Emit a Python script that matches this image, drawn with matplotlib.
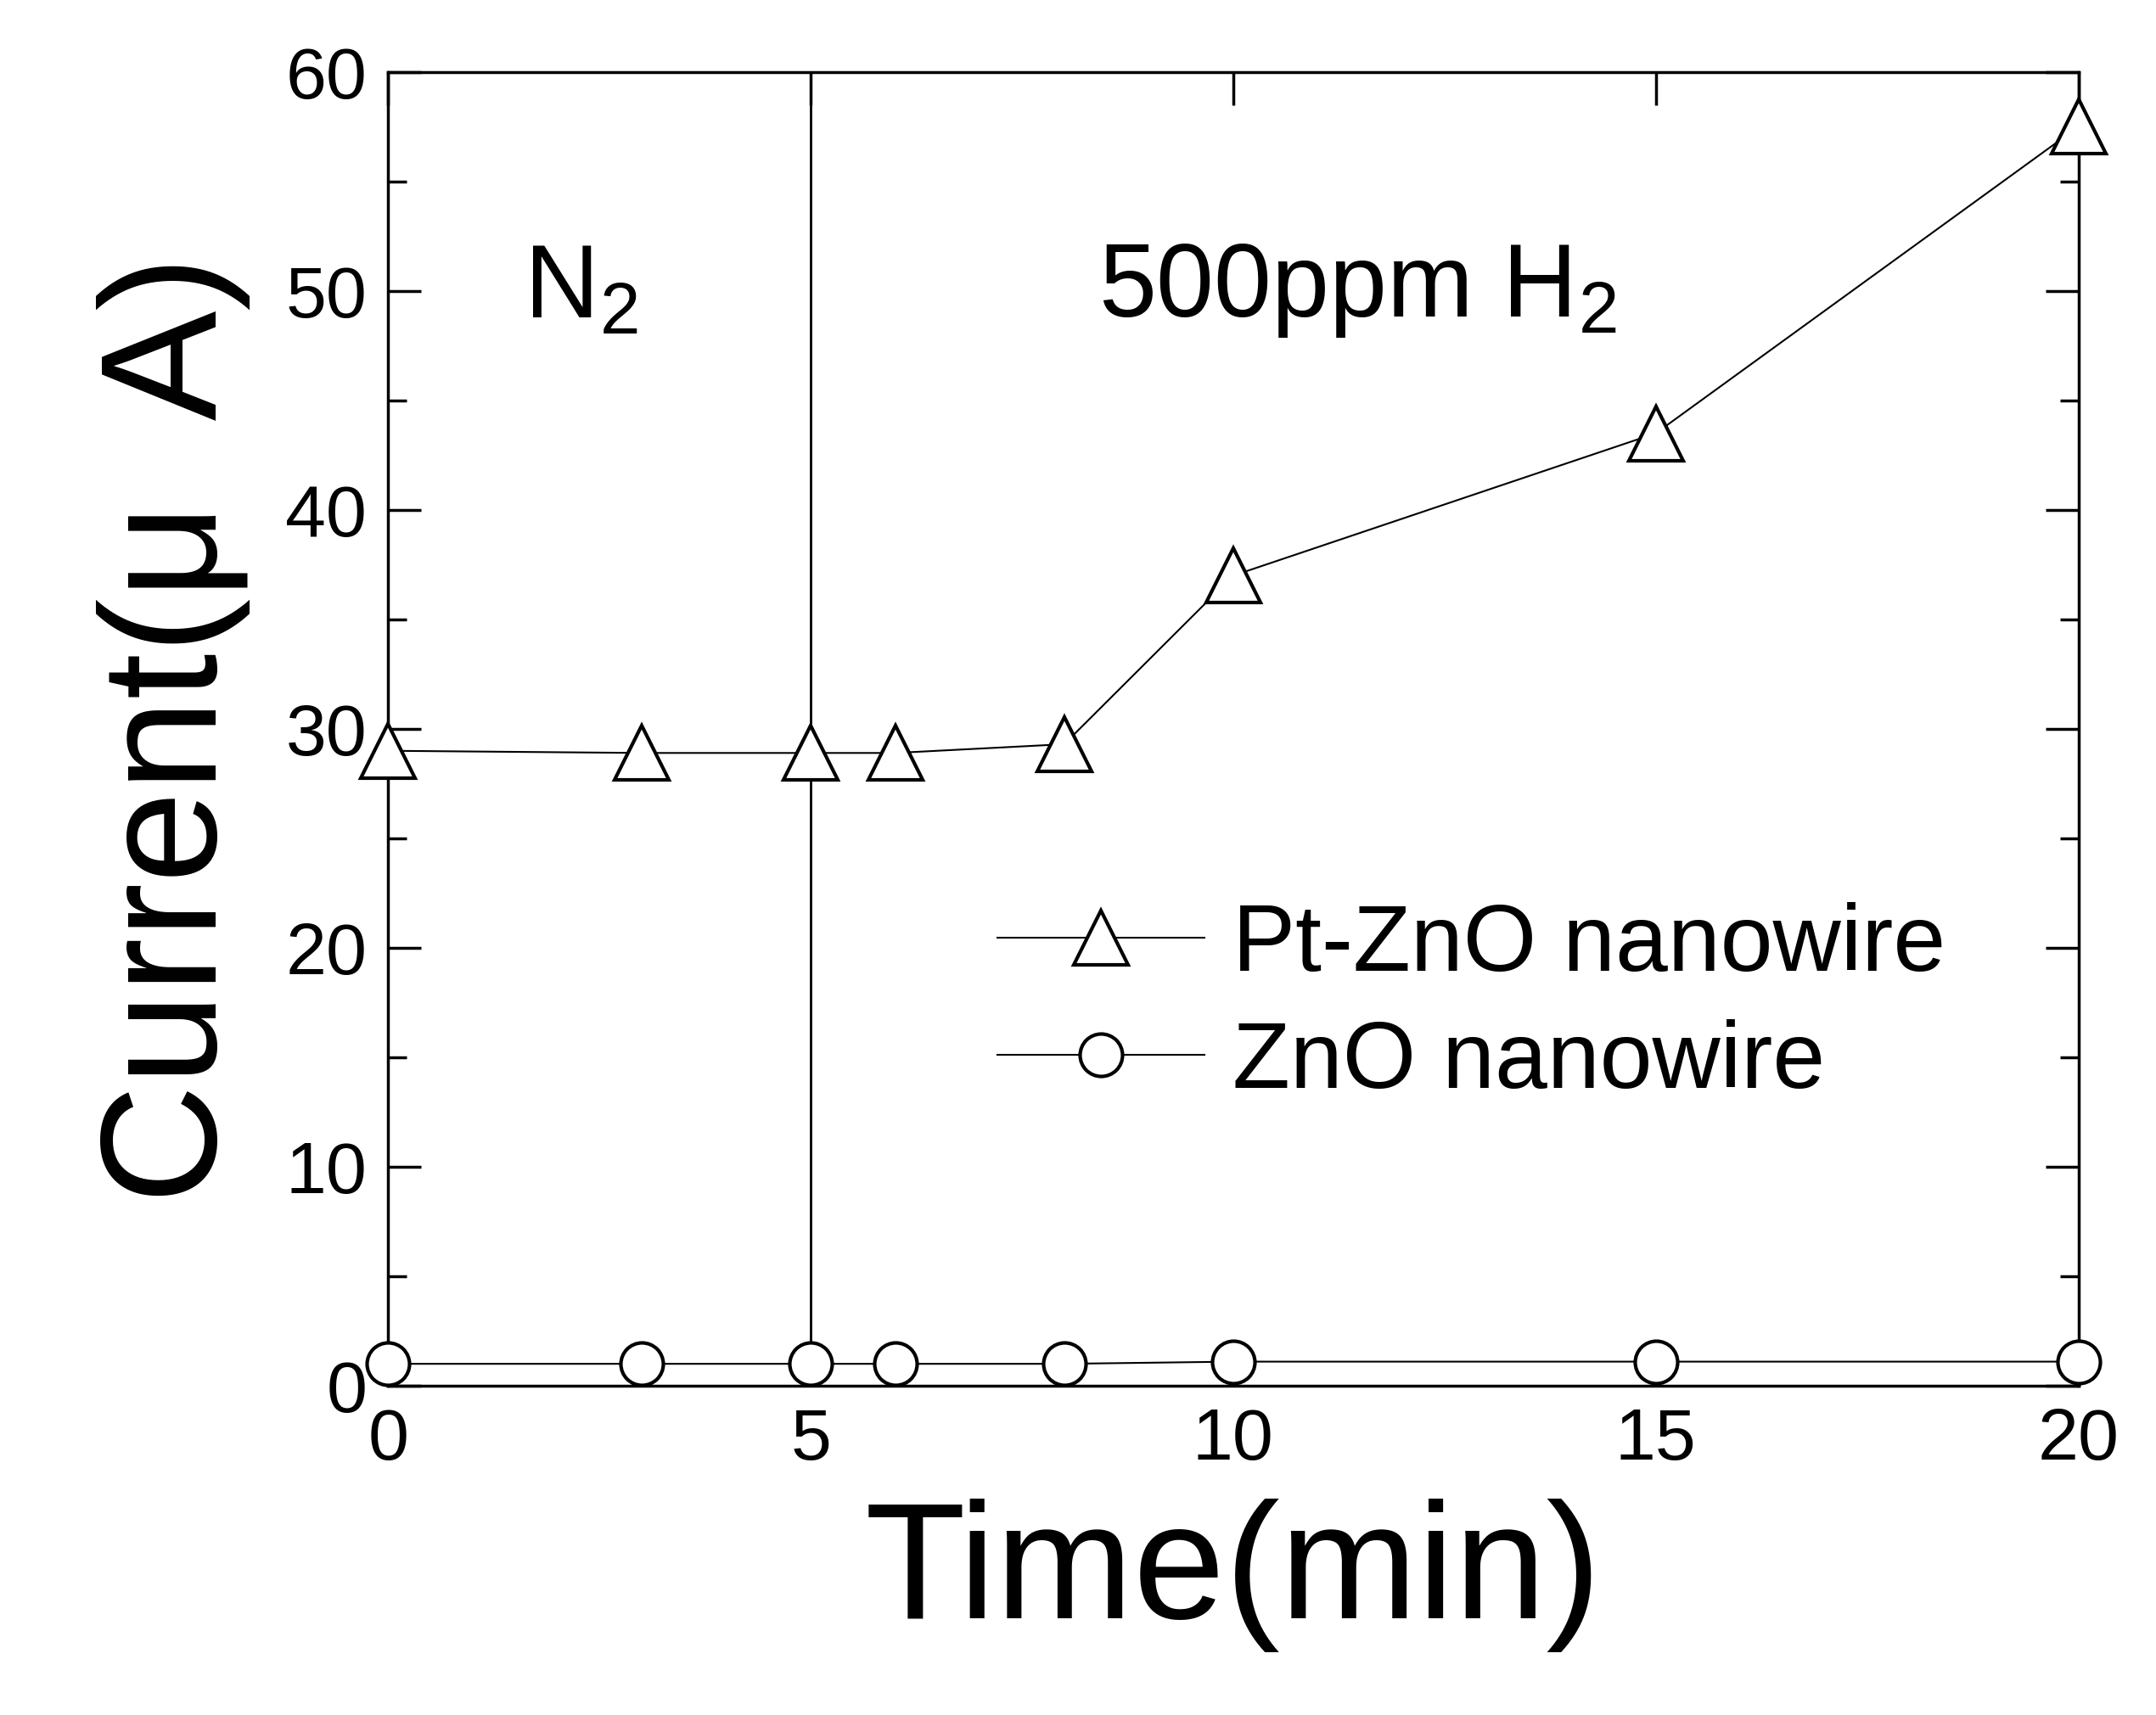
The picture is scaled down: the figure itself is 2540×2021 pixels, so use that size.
import matplotlib.pyplot as plt
from matplotlib.ticker import MultipleLocator

time_pt = [0, 3, 5, 6, 8, 10, 15, 20]
current_pt = [29.0, 28.9, 28.9, 28.9, 29.3, 37.0, 43.5, 57.5]
time_zno = [0, 3, 5, 6, 8, 10, 15, 20]
current_zno = [1.0, 1.0, 1.0, 1.0, 1.0, 1.1, 1.1, 1.1]

plt.rcParams['font.family'] = 'Liberation Sans'
plt.rcParams['mathtext.fontset'] = 'custom'
plt.rcParams['mathtext.rm'] = 'Liberation Sans'
plt.rcParams['mathtext.it'] = 'Liberation Sans'
fig = plt.figure(figsize=(25.4, 20.21), dpi=100)
ax = fig.add_axes([0.180, 0.192, 0.784, 0.766])

ax.plot(time_pt, current_pt, color='black', lw=1.5, marker='^', ms=46,
        mfc='white', mec='black', mew=3, label='Pt-ZnO nanowire', clip_on=False, zorder=3)
ax.plot(time_zno, current_zno, color='black', lw=1.5, marker='o', ms=36,
        mfc='white', mec='black', mew=3, label='ZnO nanowire', clip_on=False, zorder=3)
ax.axvline(5, color='black', lw=2)

ax.set_xlim(0, 20)
ax.set_ylim(0, 60)
ax.xaxis.set_major_locator(MultipleLocator(5))
ax.yaxis.set_major_locator(MultipleLocator(10))
ax.yaxis.set_minor_locator(MultipleLocator(5))
ax.tick_params(which='both', direction='in', top=True, right=True, labelsize=62, width=2.5)
ax.tick_params(which='major', length=28, pad=18)
ax.tick_params(which='minor', length=16)
for s in ax.spines.values():
    s.set_linewidth(2.5)

ax.set_xlabel('Time(min)', fontsize=140, labelpad=20)
ax.set_ylabel('Current(μ  A)', fontsize=140, labelpad=30)

ax.text(1.6, 50, r'N$_2$', fontsize=88, ha='left', va='center')
ax.text(8.4, 50, r'500ppm H$_2$', fontsize=88, ha='left', va='center')

ax.legend(loc='center left', bbox_to_anchor=(0.31, 0.29), frameon=False, fontsize=80,
          handlelength=2.2, labelspacing=0.3, handletextpad=0.3)

fig.savefig('out.png', dpi=100)
